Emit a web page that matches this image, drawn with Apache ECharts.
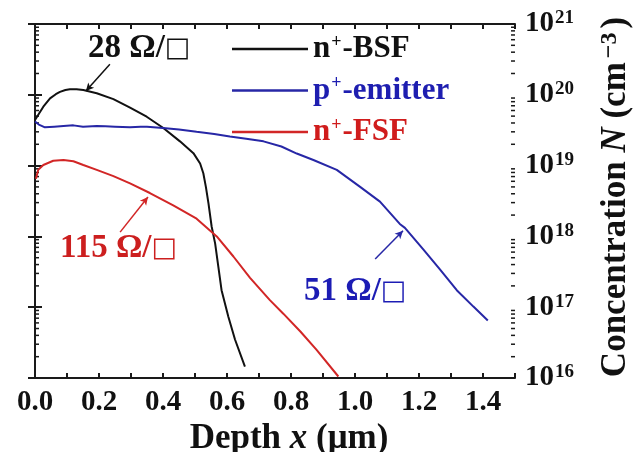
<!DOCTYPE html>
<html><head><meta charset="utf-8">
<script src="https://cdn.jsdelivr.net/npm/echarts@6/dist/echarts.min.js"></script>
<style>html,body{margin:0;padding:0;background:#fff}#c{width:640px;height:452px}</style>
</head><body><div id="c"></div>
<script>
// ---- data ----
const xTickLabels = ['0.0','0.2','0.4','0.6','0.8','1.0','1.2','1.4'];
const yTickExponents = ['16','17','18','19','20','21'];

const bsfX = [0, 0.026, 0.047, 0.065, 0.078, 0.095, 0.109, 0.13, 0.151, 0.193, 0.245, 0.297, 0.349, 0.401, 0.453, 0.495, 0.516, 0.526, 0.534, 0.542, 0.552, 0.563, 0.573, 0.583, 0.604, 0.625, 0.656];
const bsfN = [4.4e19, 6.8e19, 8.9e19, 1.02e20, 1.1e20, 1.17e20, 1.2e20, 1.2e20, 1.17e20, 1.05e20, 8.7e19, 6.6e19, 4.9e19, 3.4e19, 2.2e19, 1.5e19, 1.07e19, 7.8e18, 5.0e18, 2.95e18, 1.38e18, 7.9e17, 3.7e17, 1.74e17, 7.4e16, 3.5e16, 1.45e16];

const emX = [0, 0.012, 0.031, 0.06, 0.089, 0.12, 0.15, 0.193, 0.22, 0.25, 0.297, 0.33, 0.35, 0.40, 0.45, 0.505, 0.56, 0.609, 0.66, 0.714, 0.77, 0.818, 0.87, 0.943, 1.016, 1.078, 1.14, 1.156, 1.214, 1.266, 1.318, 1.37, 1.415];
const emN = [4.2e19, 3.8e19, 3.47e19, 3.55e19, 3.63e19, 3.7e19, 3.55e19, 3.63e19, 3.6e19, 3.55e19, 3.47e19, 3.55e19, 3.55e19, 3.4e19, 3.24e19, 3.0e19, 2.8e19, 2.57e19, 2.4e19, 2.2e19, 1.86e19, 1.48e19, 1.2e19, 8.7e18, 5.0e18, 3.1e18, 1.5e18, 1.32e18, 6.5e17, 3.4e17, 1.74e17, 1.02e17, 6.5e16];

const fsfX = [0.003, 0.01, 0.026, 0.057, 0.089, 0.12, 0.151, 0.193, 0.245, 0.297, 0.359, 0.432, 0.505, 0.568, 0.62, 0.672, 0.734, 0.776, 0.83, 0.88, 0.948];
const fsfN = [6.5e18, 8.7e18, 1.02e19, 1.17e19, 1.2e19, 1.15e19, 1.02e19, 8.7e18, 7.1e18, 5.6e18, 4.1e18, 2.75e18, 1.78e18, 1.0e18, 5.2e17, 2.6e17, 1.26e17, 8.1e16, 4.5e16, 2.5e16, 1.05e16];

const seriesNames = ['n+-BSF', 'p+-emitter', 'n+-FSF'];
const sheetLabels = ['28', '51', '115'];

// ---- styling ----
const FONT = 'Liberation Serif';
const BLACK = '#111111', BLUE = '#2727a6', RED = '#d22626';
const AXIS = '#1a1a1a';

// minor ticks of the log axis (axis decoration)
const minorTicks = [];
for (let k = 16; k < 21; k++) for (let m = 2; m <= 9; m++) minorTicks.push(m * Math.pow(10, k));

const chart = echarts.init(document.getElementById('c'), null, {renderer: 'canvas'});

const legendRich = {};
[['k', BLACK], ['b', '#1e1eb0'], ['r', '#d01c1c']].forEach(([key, col]) => {
  legendRich[key] = {color: col, fontSize: 31, fontWeight: 'bold', fontFamily: FONT, lineHeight: 32};
  legendRich[key + 's'] = {color: col, fontSize: 18, fontWeight: 'bold', fontFamily: FONT, verticalAlign: 'top', lineHeight: 32, padding: [0, 1, 12, 1]};
});
const legendKey = {'n+-BSF': 'k', 'p+-emitter': 'b', 'n+-FSF': 'r'};

function annText(num, col) {
  return {
    text: '{n|' + num + ' Ω/}{q|□}',
    rich: {
      n: {fill: col, fontSize: 33, fontWeight: 'bold', fontFamily: FONT},
      q: {fill: col, fontSize: 27, fontWeight: 'normal', fontFamily: 'DejaVu Sans'}
    }
  };
}

function lineData(xs, ns) { return xs.map((x, i) => [x, ns[i]]); }

const titleRich = {
  t: {fontSize: 35, fontWeight: 'bold', fontFamily: FONT, color: '#111', lineHeight: 36},
  i: {fontSize: 35, fontWeight: 'bold', fontStyle: 'italic', fontFamily: FONT, color: '#111', lineHeight: 36},
  s: {fontSize: 24, fontWeight: 'bold', fontFamily: FONT, color: '#111', verticalAlign: 'top', lineHeight: 36, padding: [0, 4, 14, 4]}
};

const option = {
  backgroundColor: '#fff',
  animation: false,
  grid: {left: 35, right: 125, top: 24, bottom: 74, outerBoundsMode: 'none', containLabel: false},
  legend: {
    orient: 'vertical', left: 227, top: 28, itemWidth: 76, itemHeight: 2.5, itemGap: 10, icon: 'rect',
    data: seriesNames,
    formatter: function (name) {
      const k = legendKey[name];
      const parts = name.split('+');
      return '{' + k + '|' + parts[0] + '}{' + k + 's|+}{' + k + '|' + parts[1] + '}';
    },
    textStyle: {rich: legendRich, fontFamily: FONT}
  },
  xAxis: [{
    type: 'value', min: 0, max: 1.5, interval: 0.1, position: 'bottom',
    axisLine: {show: true, lineStyle: {color: AXIS, width: 2}},
    axisTick: {show: true, inside: true, length: 5, lineStyle: {color: AXIS, width: 2}},
    splitLine: {show: false},
    axisLabel: {
      margin: 10, color: '#111', fontSize: 29, fontWeight: 'bold', fontFamily: FONT,
      formatter: function (v) { const s = v.toFixed(1); return xTickLabels.indexOf(s) >= 0 ? s : ''; }
    },
    name: '{t|Depth }{i|x}{t| (μm)}', nameLocation: 'middle', nameGap: 26,
    nameTextStyle: {rich: titleRich, padding: [0, 0, 0, 28]}
  }, {
    type: 'value', min: 0, max: 1.5, interval: 0.1, position: 'top',
    axisLine: {show: true, lineStyle: {color: AXIS, width: 2}},
    axisTick: {show: true, inside: true, length: 5, lineStyle: {color: AXIS, width: 2}},
    axisLabel: {show: false}, splitLine: {show: false}
  }],
  yAxis: [{
    type: 'log', logBase: 10, min: 1e16, max: 1e21, position: 'right',
    axisLine: {show: true, lineStyle: {color: AXIS, width: 2}},
    axisTick: {show: true, inside: true, length: 7, lineStyle: {color: AXIS, width: 2}},
    splitLine: {show: false},
    axisLabel: {
      margin: 10, formatter: function (v) {
        const e = String(Math.round(Math.log10(v)));
        return yTickExponents.indexOf(e) >= 0 ? '{b|10}{s|' + e + '}' : '';
      },
      rich: {
        b: {fontSize: 29, fontWeight: 'bold', fontFamily: FONT, color: '#111', lineHeight: 30},
        s: {fontSize: 19, fontWeight: 'bold', fontFamily: FONT, color: '#111', verticalAlign: 'top', lineHeight: 30, padding: [0, 0, 12, 1]}
      }
    },
    name: '{t|Concentration }{i|N}{t| (cm}{s|−3}{t|)}', nameLocation: 'middle', nameGap: 83, nameRotate: 90,
    nameTextStyle: {rich: titleRich, padding: [0, 0, 0, 8]}
  }, {
    type: 'log', logBase: 10, min: 1e16, max: 1e21, position: 'left',
    axisLine: {show: true, lineStyle: {color: AXIS, width: 2}},
    axisTick: {show: true, inside: true, length: 7, lineStyle: {color: AXIS, width: 2}},
    axisLabel: {show: false}, splitLine: {show: false}
  }],
  graphic: [
    {type: 'text', left: 88, top: 32, style: annText(sheetLabels[0], BLACK)},
    {type: 'text', left: 304, top: 275, style: annText(sheetLabels[1], '#1c1cb4')},
    {type: 'text', left: 60, top: 232, style: annText(sheetLabels[2], '#cc1f1f')}
  ],
  series: [
    {
      type: 'line', name: seriesNames[0], data: lineData(bsfX, bsfN), symbol: 'none',
      lineStyle: {color: BLACK, width: 2}, itemStyle: {color: BLACK},
      markLine: {silent: true, symbol: ['none', 'arrow'], symbolSize: [6, 8], label: {show: false},
        lineStyle: {color: BLACK, width: 1.5, type: 'solid'},
        data: [[{coord: [0.234, 2.7e20]}, {coord: [0.159, 1.13e20]}]]}
    },
    {
      type: 'line', name: seriesNames[1], data: lineData(emX, emN), symbol: 'none',
      lineStyle: {color: BLUE, width: 2}, itemStyle: {color: BLUE},
      markLine: {silent: true, symbol: ['none', 'arrow'], symbolSize: [6, 8], label: {show: false},
        lineStyle: {color: BLUE, width: 1.5, type: 'solid'},
        data: [[{coord: [1.063, 4.8e17]}, {coord: [1.15, 1.2e18]}]]}
    },
    {
      type: 'line', name: seriesNames[2], data: lineData(fsfX, fsfN), symbol: 'none',
      lineStyle: {color: RED, width: 2}, itemStyle: {color: RED},
      markLine: {silent: true, symbol: ['none', 'arrow'], symbolSize: [6, 8], label: {show: false},
        lineStyle: {color: RED, width: 1.5, type: 'solid'},
        data: [[{coord: [0.266, 1.15e18]}, {coord: [0.353, 3.6e18]}]]}
    },
    {
      type: 'custom', name: 'minor', silent: true, coordinateSystem: 'cartesian2d',
      data: minorTicks.map(v => [0, v]),
      renderItem: function (params, api) {
        const v = api.value(1);
        const pl = api.coord([0, v]);
        const pr = api.coord([1.5, v]);
        const st = {stroke: AXIS, lineWidth: 1.5};
        return {type: 'group', children: [
          {type: 'line', shape: {x1: pl[0], y1: pl[1], x2: pl[0] + 4, y2: pl[1]}, style: st},
          {type: 'line', shape: {x1: pr[0], y1: pr[1], x2: pr[0] - 4, y2: pr[1]}, style: st}
        ]};
      },
      z: 1
    }
  ]
};
chart.setOption(option);
</script>
</body></html>
